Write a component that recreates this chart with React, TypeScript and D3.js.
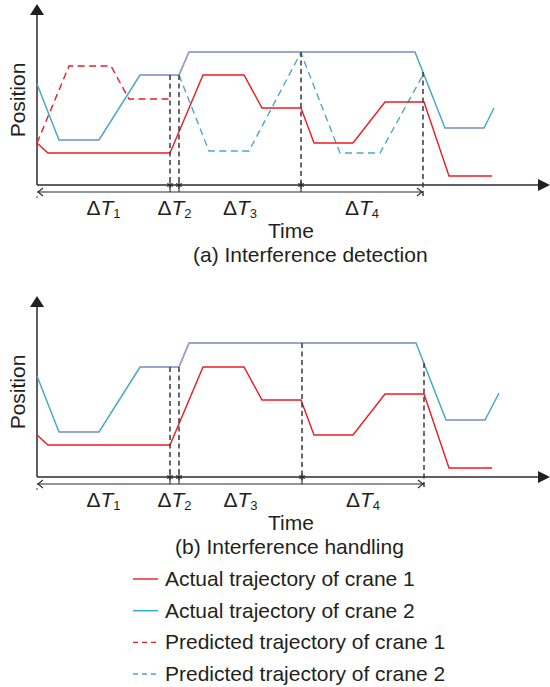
import React from "react";
import * as d3 from "d3";

// Time / position samples (arbitrary units) for each trajectory
const crane1Actual: [number, number][] = [
  [0, 4.2], [1.1, 3.2], [13.3, 3.2], [16.6, 11.0], [20.7, 11.0], [22.5, 7.7],
  [26.4, 7.7], [27.7, 4.2], [31.6, 4.2], [34.8, 8.3], [38.7, 8.3], [41.2, 0.9], [45.5, 0.9],
];
const crane2ActualA: [number, number][] = [
  [0, 10.1], [2.2, 4.5], [6.2, 4.5], [10.3, 11.0], [14.2, 11.0], [15.2, 13.3],
  [37.8, 13.3], [40.8, 5.7], [44.7, 5.7], [45.7, 7.7],
];
const crane2ActualB: [number, number][] = [
  [0, 10.1], [2.2, 4.5], [6.2, 4.5], [10.3, 11.0], [14.2, 11.0], [15.2, 13.4],
  [37.9, 13.4], [40.9, 5.7], [44.8, 5.7], [46.2, 8.4],
];
// Intervals where crane 2 holds / yields (drawn in a mixed tint)
const crane2HoldIntervals: [number, number][] = [[2.2, 6.2], [10.3, 37.9], [40.8, 44.8]];

const crane1Predicted: [number, number][] = [
  [0, 4.2], [3.2, 11.9], [7.4, 11.9], [9.2, 8.6], [13.3, 8.6],
];
const crane2Predicted: [number, number][] = [
  [14.2, 11.0], [17.2, 3.4], [21.2, 3.4], [26.0, 12.5], [26.4, 13.2],
  [30.3, 3.2], [34.3, 3.2], [38.6, 11.0],
];

// Event instants and the heights their guide lines reach
const eventTimesA = [13.3, 14.2, 26.4, 38.6];
const eventTopsA = [11.0, 11.0, 13.3, 11.3];
const eventTimesB = [13.3, 14.2, 26.5, 38.7];
const eventTopsB = [11.0, 11.0, 13.4, 11.4];
const intervalLabels = ["1", "2", "3", "4"];

const legendLabels = [
  "Actual trajectory of crane 1",
  "Actual trajectory of crane 2",
  "Predicted trajectory of crane 1",
  "Predicted trajectory of crane 2",
];

const RED = "#ec1c24";
const TEAL = "#4aa9c2";
const PURPLE = "#a69ecb";
const BLUE = "#27a8e1";
const INK = "#231f20";
const AXIS = "#2b2b2b";
const FONT = "'Liberation Sans', Arial, Helvetica, sans-serif";

const x = d3.scaleLinear().domain([0, 51]).range([37, 547]);

function Panel({
  oy, c2, predicted, times, tops, caption, captionX,
}: {
  oy: number; c2: [number, number][]; predicted: boolean; times: number[];
  tops: number[]; caption: string; captionX: number;
}) {
  const y = d3.scaleLinear().domain([0, 18]).range([oy + 185, oy + 5]);
  const line = d3.line<[number, number]>().x((d) => x(d[0])).y((d) => y(d[1]));
  const axisY = y(0);
  const bracketY = axisY + 7;
  const x0 = x(0);
  const xEnd = x(times[3]);

  // segments of crane 2 that fall inside a hold interval
  const holdSegs: [number, number][][] = [];
  for (let i = 0; i < c2.length - 1; i++) {
    const a = c2[i], b = c2[i + 1];
    if (crane2HoldIntervals.some(([s, e]) => a[0] >= s - 1e-6 && b[0] <= e + 1e-6)) {
      holdSegs.push([a, b]);
    }
  }

  const bounds = [0, ...times];
  const star = (cx: number, cy: number, k: number) => {
    const r = 3.2;
    return (
      <g key={k} stroke={AXIS} strokeWidth={1.2}>
        <line x1={cx} y1={cy - r} x2={cx} y2={cy + r} />
        <line x1={cx - r * 0.87} y1={cy - r / 2} x2={cx + r * 0.87} y2={cy + r / 2} />
        <line x1={cx - r * 0.87} y1={cy + r / 2} x2={cx + r * 0.87} y2={cy - r / 2} />
      </g>
    );
  };

  return (
    <g>
      {/* axes */}
      <line x1={x0} y1={oy + 14} x2={x0} y2={axisY} stroke={AXIS} strokeWidth={1.5} />
      <path d={`M${x0 - 7},${oy + 15}L${x0 + 7},${oy + 15}L${x0},${oy + 4}Z`} fill={INK} />
      <line x1={x0} y1={axisY} x2={539} y2={axisY} stroke={AXIS} strokeWidth={1.5} />
      <path d={`M538,${axisY - 6}L538,${axisY + 6}L550,${axisY}Z`} fill={INK} />

      {/* trajectories */}
      {predicted && (
        <>
          <path d={line(crane1Predicted)!} fill="none" stroke={RED} strokeWidth={1.4} strokeDasharray="7,4.5" />
          <path d={line(crane2Predicted)!} fill="none" stroke={TEAL} strokeWidth={1.4} strokeDasharray="7,4.5" />
        </>
      )}
      <path d={line(c2)!} fill="none" stroke={TEAL} strokeWidth={1.5} />
      {holdSegs.map((s, i) => (
        <path key={i} d={line(s)!} fill="none" stroke={PURPLE} strokeWidth={1.6} />
      ))}
      <path d={line(crane1Actual)!} fill="none" stroke={RED} strokeWidth={1.4} />

      {/* event guide lines */}
      {times.map((t, i) => (
        <line key={i} x1={x(t)} x2={x(t)} y1={y(tops[i])} y2={i === 3 ? bracketY + 5 : axisY}
          stroke="#3a3a3a" strokeWidth={1.5} strokeDasharray="5,3.5" />
      ))}

      {/* interval bracket */}
      <line x1={x0} y1={bracketY} x2={xEnd} y2={bracketY} stroke={AXIS} strokeWidth={1.2} />
      <path d={`M${x0 + 6},${bracketY - 4}L${x0 + 1},${bracketY}L${x0 + 6},${bracketY + 4}`} fill="none" stroke={AXIS} strokeWidth={1.1} />
      <path d={`M${xEnd - 6},${bracketY - 4}L${xEnd - 1},${bracketY}L${xEnd - 6},${bracketY + 4}`} fill="none" stroke={AXIS} strokeWidth={1.1} />
      <circle cx={x0} cy={bracketY + 5} r={0.8} fill={AXIS} />
      {times.slice(0, 3).map((t, i) => (
        <line key={i} x1={x(t)} x2={x(t)} y1={axisY} y2={bracketY} stroke={AXIS} strokeWidth={1.1} />
      ))}
      {times.slice(0, 3).map((t, i) => star(x(t), axisY, i))}

      {/* interval labels */}
      {intervalLabels.map((lab, i) => (
        <text key={i} x={(x(bounds[i]) + x(bounds[i + 1])) / 2} y={axisY + 30}
          textAnchor="middle" fontFamily={FONT} fontSize={21} fill={INK}>
          Δ<tspan fontStyle="italic">T</tspan>
          <tspan fontSize={13} dy={3}>{lab}</tspan>
        </text>
      ))}

      <text x={291} y={axisY + 53} textAnchor="middle" fontFamily={FONT} fontSize={21} fill={INK}>Time</text>
      <text x={captionX} y={axisY + 77} fontFamily={FONT} fontSize={21} fill={INK}>{caption}</text>
      <text transform={`translate(25,${oy + 100}) rotate(-90)`} textAnchor="middle" fontFamily={FONT} fontSize={21} fill={INK}>Position</text>
    </g>
  );
}

export default function App() {
  const legendStyles = [
    { color: RED, dash: undefined },
    { color: BLUE, dash: undefined },
    { color: RED, dash: "5,4" },
    { color: TEAL, dash: "5,4" },
  ];
  const legendY = d3.scaleLinear().domain([0, 3]).range([579, 674]);
  return (
    <svg width={550} height={687} style={{ position: "absolute", left: 0, top: 0, background: "#fff" }}>
      <rect width={550} height={687} fill="#fff" />
      <Panel oy={0} c2={crane2ActualA} predicted={true} times={eventTimesA} tops={eventTopsA}
        caption="(a) Interference detection" captionX={193} />
      <Panel oy={292} c2={crane2ActualB} predicted={false} times={eventTimesB} tops={eventTopsB}
        caption="(b) Interference handling" captionX={175} />
      {legendLabels.map((lab, i) => (
        <g key={i}>
          <line x1={133} x2={158} y1={legendY(i)} y2={legendY(i)} stroke={legendStyles[i].color}
            strokeWidth={1.4} strokeDasharray={legendStyles[i].dash} />
          <text x={165} y={legendY(i) + 7} fontFamily={FONT} fontSize={21} fill={INK}>{lab}</text>
        </g>
      ))}
    </svg>
  );
}
